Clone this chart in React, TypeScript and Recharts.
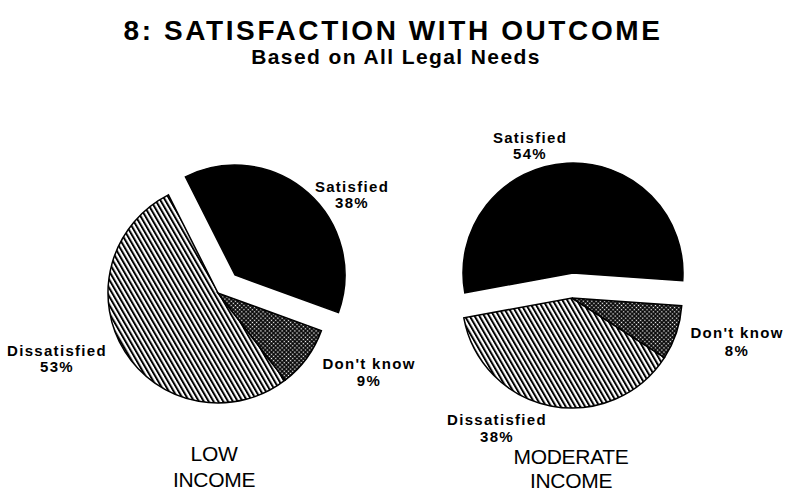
import { PieChart, Pie, Cell } from "recharts";

// values
const categories = ["Satisfied", "Dissatisfied", "Don't know"];
const lowIncome = [38, 53, 9];
const moderateIncome = [54, 38, 8];
const groupLabels = [["LOW", "INCOME"], ["MODERATE", "INCOME"]];

const fills = ["#000", "url(#hatch)", "url(#dots)"];

const toData = (vals: number[]) =>
  categories.map((name, i) => ({ name, value: vals[i] }));

const lowData = toData(lowIncome);
const modData = toData(moderateIncome);

const labelFont = {
  fontFamily: "Liberation Sans, Arial, sans-serif",
  fontWeight: 700,
  fontSize: 15,
  letterSpacing: 1.3,
};

function SliceLabel({ x, y, name, value, gap = 16 }: { x: number; y: number; name: string; value: number; gap?: number }) {
  return (
    <text x={x} y={y} textAnchor="middle" fill="#000" style={labelFont}>
      <tspan x={x} dy={0}>{name}</tspan>
      <tspan x={x} dy={gap}>{value}%</tspan>
    </text>
  );
}

// one pie split in two: the exploded slice (index 0) and the rest
function renderPie(
  key: string,
  data: { name: string; value: number }[],
  cx: number,
  cy: number,
  ex: number,
  ey: number,
  start: number
) {
  return [
    <Pie
      key={key + "-rest"}
      data={data}
      dataKey="value"
      cx={cx}
      cy={cy}
      outerRadius={110}
      startAngle={start}
      endAngle={start + 360}
      isAnimationActive={false}
      label={false}
      labelLine={false}
    >
      {data.map((d, i) => (
        <Cell
          key={d.name}
          fill={i === 0 ? "none" : fills[i]}
          stroke={i === 0 ? "none" : "#000"}
          strokeWidth={1.5}
        />
      ))}
    </Pie>,
    <Pie
      key={key + "-out"}
      data={data}
      dataKey="value"
      cx={ex}
      cy={ey}
      outerRadius={110}
      startAngle={start}
      endAngle={start + 360}
      isAnimationActive={false}
      label={false}
      labelLine={false}
    >
      {data.map((d, i) => (
        <Cell
          key={d.name}
          fill={i === 0 ? fills[0] : "none"}
          stroke={i === 0 ? "#000" : "none"}
          strokeWidth={1.5}
        />
      ))}
    </Pie>,
  ];
}

const groupFont = {
  fontFamily: "Liberation Sans, Arial, sans-serif",
  fontSize: 21,
  letterSpacing: -0.3,
};

export default function App() {
  return (
    <div style={{ position: "absolute", left: 0, top: 0, width: 785, height: 493, background: "#fff" }}>
      <PieChart width={785} height={493} margin={{ top: 0, right: 0, bottom: 0, left: 0 }}>
        <defs>
          <pattern id="hatch" width="4.2" height="4.2" patternUnits="userSpaceOnUse" patternTransform="rotate(-30)">
            <rect width="4.2" height="4.2" fill="#fff" />
            <rect width="2" height="4.2" fill="#000" />
          </pattern>
          <pattern id="dots" width="3" height="3" patternUnits="userSpaceOnUse" patternTransform="rotate(45)">
            <rect width="3" height="3" fill="#000" />
            <rect x="0.8" y="0.8" width="1.4" height="1.4" fill="#fff" />
          </pattern>
        </defs>

        <text x={393} y={40} textAnchor="middle" fill="#000"
          style={{ fontFamily: "Liberation Sans, Arial, sans-serif", fontWeight: 700, fontSize: 28, letterSpacing: 2.6 }}>
          8: SATISFACTION WITH OUTCOME
        </text>
        <text x={396} y={64} textAnchor="middle" fill="#000"
          style={{ fontFamily: "Liberation Sans, Arial, sans-serif", fontWeight: 700, fontSize: 21, letterSpacing: 1.4 }}>
          Based on All Legal Needs
        </text>

        {renderPie("low", lowData, 218, 293, 235, 275, -20)}
        {renderPie("mod", modData, 572, 298, 573, 273, -4)}

        <SliceLabel x={352} y={192} name={categories[0]} value={lowIncome[0]} />
        <SliceLabel x={57} y={356} name={categories[1]} value={lowIncome[1]} />
        <SliceLabel x={369} y={369} name={categories[2]} value={lowIncome[2]} gap={17} />

        <SliceLabel x={530} y={143} name={categories[0]} value={moderateIncome[0]} />
        <SliceLabel x={497} y={425} name={categories[1]} value={moderateIncome[1]} gap={17} />
        <SliceLabel x={737} y={338} name={categories[2]} value={moderateIncome[2]} gap={18} />

        {groupLabels.map((lines, g) => {
          const x = g === 0 ? 214 : 571;
          return (
            <text key={g} x={x} y={g === 0 ? 461 : 464} textAnchor="middle" fill="#000" style={groupFont}>
              <tspan x={x} dy={0}>{lines[0]}</tspan>
              <tspan x={x} dy={g === 0 ? 26 : 24}>{lines[1]}</tspan>
            </text>
          );
        })}
      </PieChart>
    </div>
  );
}
